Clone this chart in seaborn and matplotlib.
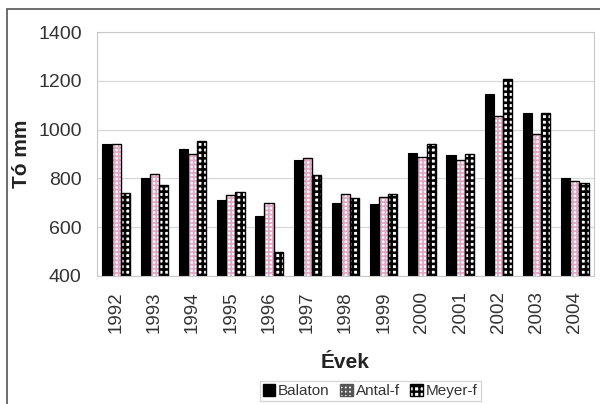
import matplotlib
matplotlib.use('Agg')
import matplotlib.pyplot as plt
from matplotlib.patches import Rectangle, Patch
import seaborn as sns
import pandas as pd

# data (mm)
years = ['1992', '1993', '1994', '1995', '1996', '1997', '1998',
         '1999', '2000', '2001', '2002', '2003', '2004']
balaton = [940, 802, 921, 711, 646, 875, 698, 695, 906, 895, 1144, 1066, 802]
antal_f = [943, 816, 902, 734, 700, 882, 738, 725, 888, 875, 1055, 984, 789]
meyer_f = [742, 772, 954, 745, 500, 813, 718, 736, 943, 898, 1208, 1066, 782]
series = ['Balaton', 'Antal-f', 'Meyer-f']

df = pd.DataFrame({'year': years * 3,
                   'value': balaton + antal_f + meyer_f,
                   'series': [s for s in series for _ in years]})

sns.set_theme(style='white')
plt.rcParams['font.family'] = ['Liberation Sans', 'DejaVu Sans']
plt.rcParams['hatch.linewidth'] = 1.7

fig = plt.figure(figsize=(6, 4.04), dpi=100)
ax = fig.add_axes([97 / 600, 1 - 276 / 404, 497 / 600, 244 / 404])

sns.barplot(data=df, x='year', y='value', hue='series', hue_order=series,
            palette=['black', 'white', 'white'], width=0.72, saturation=1,
            ax=ax, legend=False, errorbar=None)

n = len(years)
pink = '#e0a8c4'
for i, p in enumerate(ax.patches[:3 * n]):
    k = i // n
    if k == 0:
        p.set_facecolor('black')
        p.set_edgecolor('black')
        p.set_linewidth(0.8)
    elif k == 1:
        p.set_facecolor('white')
        p.set_edgecolor(pink)
        p.set_hatch('++++')
        p.set_linewidth(0)
        if hasattr(p, 'set_hatch_linewidth'):
            p.set_hatch_linewidth(1.3)
        ax.add_patch(Rectangle(p.get_xy(), p.get_width(), p.get_height(),
                               fill=False, ec='black', lw=1.0, zorder=p.get_zorder() + 0.1))
    else:
        p.set_facecolor('white')
        p.set_edgecolor('black')
        p.set_hatch('+++')
        p.set_linewidth(1.0)
        if hasattr(p, 'set_hatch_linewidth'):
            p.set_hatch_linewidth(1.9)

ax.set_ylim(400, 1400)
ax.set_yticks([400, 600, 800, 1000, 1200, 1400])
ax.yaxis.grid(True, color='#d8d8d8', lw=0.9)
ax.set_axisbelow(True)
for s in ax.spines.values():
    s.set_color('#c8c8c8')
    s.set_linewidth(0.8)

ax.tick_params(axis='y', labelsize=14, colors='#333333', length=3, width=0.6, pad=8)
ax.tick_params(axis='x', labelsize=13.5, colors='#333333', length=3, width=0.6,
               rotation=90, pad=8)
ax.set_xlabel('Évek', fontsize=15, fontweight='bold', labelpad=14, color='#222222')
ax.set_ylabel('Tó mm', fontsize=15, fontweight='bold', labelpad=5, color='#222222')

handles = [Patch(facecolor='black', edgecolor='black'),
           Patch(facecolor='white', edgecolor='#555555', hatch='++++'),
           Patch(facecolor='white', edgecolor='black', hatch='+++')]
fig.legend(handles, series, loc='upper center', bbox_to_anchor=(0.617, 1 - 381 / 404),
           borderaxespad=0, ncol=3, fontsize=11, frameon=True, fancybox=False,
           edgecolor='#cccccc', handlelength=0.8, handleheight=0.8, handletextpad=0.2,
           columnspacing=0.7, borderpad=0.2, labelcolor='#333333')

# outer frame of the chart
fig.patches.append(Rectangle((7 / 600, -0.2), 1.2, 1.2 - 9 / 404,
                             transform=fig.transFigure, fill=False,
                             ec='#555555', lw=1.2))

fig.savefig('out.png', dpi=100)
